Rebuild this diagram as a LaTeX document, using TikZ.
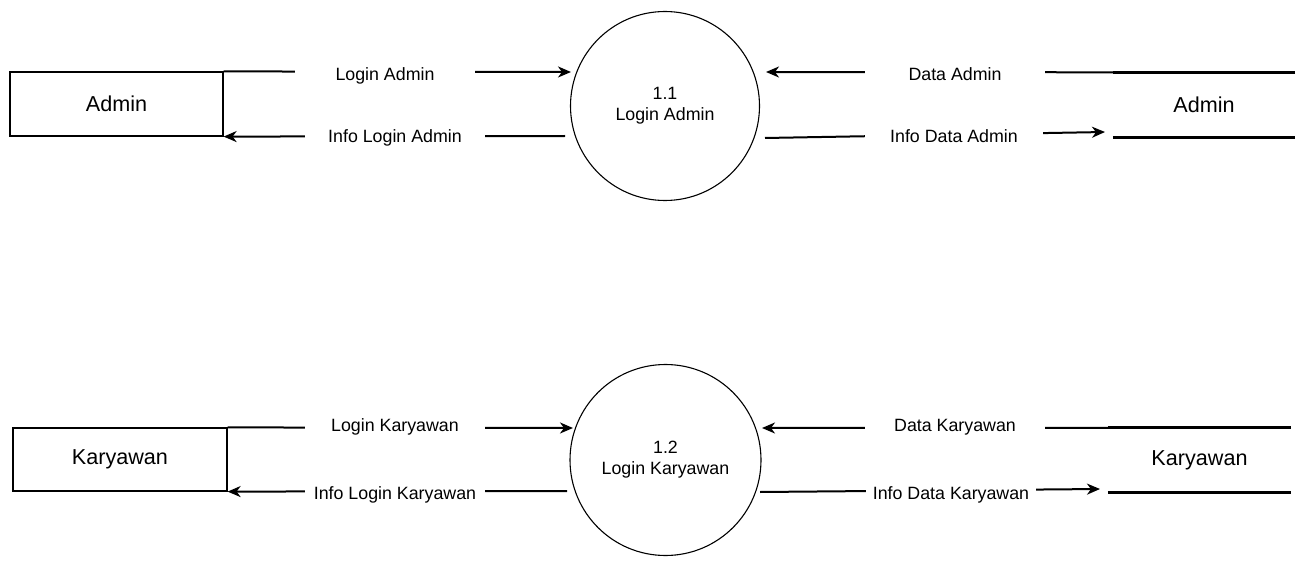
\documentclass[tikz,border=0pt]{standalone}
\usepackage{fontspec}
\setmainfont{Liberation Sans}
\usetikzlibrary{arrows.meta}
\begin{document}
\begin{tikzpicture}[x=1pt,y=-1pt,
  ent/.style={draw, line width=1.2pt, inner sep=0pt, font=\fontsize{21.6}{26}\selectfont},
  proc/.style={draw, circle, line width=1.1pt, inner sep=0pt, align=center, font=\fontsize{17.8}{21}\selectfont},
  store/.style={inner sep=0pt, font=\fontsize{21.6}{26}\selectfont},
  lbl/.style={fill=white, inner sep=0pt, minimum height=12pt, font=\fontsize{17.8}{21}\selectfont},
  flow/.style={line width=2pt},
  arr/.style={flow, -{Stealth[length=13pt,width=11pt,inset=4pt]}},
  storeline/.style={line width=3pt}]
\useasboundingbox (0,0) rectangle (1307,567);

% ---- top row ----
\node[ent, minimum width=213pt, minimum height=64pt] (ent1) at (116.5,104) {Admin};
\node[proc, minimum size=189pt] (proc1) at (665,106) {1.1\\Login Admin};
\node[store, minimum width=182pt, minimum height=65pt] (store1) at (1204,105) {Admin};

\coordinate (a1) at (571,72);
\coordinate (a2) at (565,136);
\coordinate (a3) at (766,72);
\coordinate (a4s) at (765,138);
\coordinate (a4e) at (1105,132);

\draw[arr] (ent1.north east) -- (a1);
\draw[arr] (a2) -- (ent1.south east);
\draw[arr] (store1.north west) -- (a3);
\draw[arr] (a4s) -- (a4e);

\node[lbl, minimum width=180pt] (l1) at (385,75.5) {Login Admin};
\node[lbl, minimum width=180pt] (l2) at (395,138) {Info Login Admin};
\node[lbl, minimum width=180pt] (l3) at (955,74.5) {Data Admin};
\node[lbl, minimum width=178pt] (l4) at (954,136) {Info Data Admin};

\draw[storeline] (store1.north west) -- (store1.north east);
\draw[storeline] (store1.south west) -- (store1.south east);

% ---- bottom row ----
\node[ent, minimum width=214pt, minimum height=63pt] (ent2) at (120,459.5) {Karyawan};
\node[proc, minimum size=191pt] (proc2) at (665.5,460) {1.2\\Login Karyawan};
\node[store, minimum width=183pt, minimum height=64pt] (store2) at (1199.5,460) {Karyawan};

\coordinate (b1) at (573,428);
\coordinate (b2) at (567,491);
\coordinate (b3) at (762,428);
\coordinate (b4s) at (760,492);
\coordinate (b4e) at (1100,489);

\draw[arr] (ent2.north east) -- (b1);
\draw[arr] (b2) -- (ent2.south east);
\draw[arr] (store2.north west) -- (b3);
\draw[arr] (b4s) -- (b4e);

\node[lbl, minimum width=180pt] (l5) at (395,427) {Login Karyawan};
\node[lbl, minimum width=180pt] (l6) at (395,495) {Info Login Karyawan};
\node[lbl, minimum width=180pt] (l7) at (955,427) {Data Karyawan};
\node[lbl, minimum width=170pt] (l8) at (951,495) {Info Data Karyawan};

\draw[storeline] (store2.north west) -- (store2.north east);
\draw[storeline] (store2.south west) -- (store2.south east);
\end{tikzpicture}
\end{document}
